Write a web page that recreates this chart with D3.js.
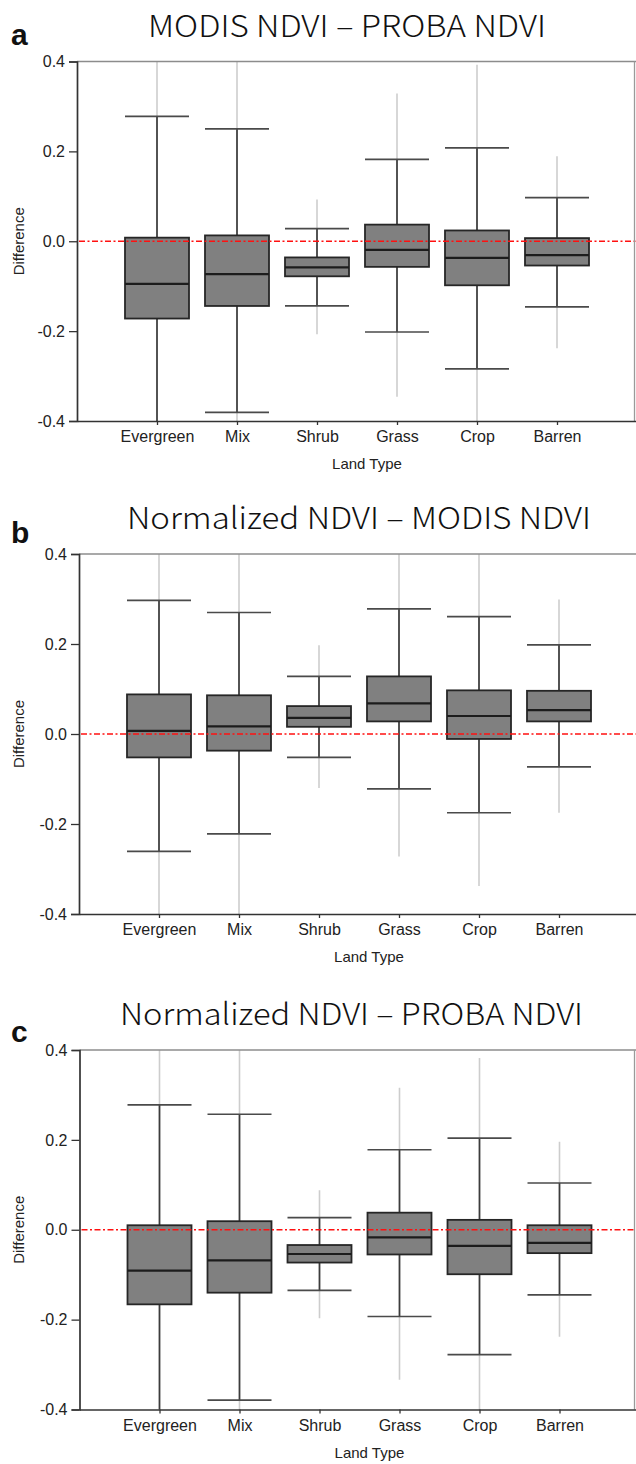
<!DOCTYPE html>
<html>
<head>
<meta charset="utf-8">
<script src="https://cdn.jsdelivr.net/npm/d3@7"></script>
<style>
  body { margin: 0; background: #fff; }
  svg { display: block; }
</style>
</head>
<body>
<div id="chart"></div>
<script>
// land types along the x axis
const landTypes = ["Evergreen", "Mix", "Shrub", "Grass", "Crop", "Barren"];
const yTicks = [0.4, 0.2, 0.0, -0.2, -0.4];

// panel a: MODIS NDVI - PROBA NDVI   (values past +-0.4 run off the plot)
const aMin  = [-0.45, -0.45, -0.207, -0.346, -0.45, -0.238];
const aLow  = [-0.45, -0.381, -0.144, -0.202, -0.284, -0.146];
const aQ1   = [-0.172, -0.144, -0.078, -0.057, -0.098, -0.054];
const aMed  = [-0.095, -0.073, -0.058, -0.019, -0.037, -0.031];
const aQ3   = [0.008, 0.013, -0.036, 0.037, 0.024, 0.007];
const aHigh = [0.278, 0.250, 0.028, 0.182, 0.208, 0.097];
const aMax  = [0.45, 0.45, 0.093, 0.329, 0.393, 0.189];

// panel b: Normalized NDVI - MODIS NDVI
const bMin  = [-0.45, -0.45, -0.120, -0.272, -0.338, -0.175];
const bLow  = [-0.261, -0.222, -0.052, -0.122, -0.175, -0.073];
const bQ1   = [-0.052, -0.037, 0.016, 0.028, -0.011, 0.028];
const bMed  = [0.007, 0.017, 0.036, 0.068, 0.040, 0.053];
const bQ3   = [0.088, 0.086, 0.062, 0.128, 0.097, 0.096];
const bHigh = [0.297, 0.270, 0.128, 0.278, 0.261, 0.198];
const bMax  = [0.45, 0.45, 0.197, 0.45, 0.45, 0.299];

// panel c: Normalized NDVI - PROBA NDVI
const cMin  = [-0.45, -0.45, -0.197, -0.334, -0.45, -0.238];
const cLow  = [-0.45, -0.379, -0.135, -0.193, -0.278, -0.145];
const cQ1   = [-0.166, -0.140, -0.073, -0.055, -0.099, -0.052];
const cMed  = [-0.091, -0.068, -0.054, -0.017, -0.036, -0.029];
const cQ3   = [0.010, 0.019, -0.034, 0.038, 0.022, 0.010];
const cHigh = [0.278, 0.257, 0.027, 0.178, 0.204, 0.104];
const cMax  = [0.45, 0.45, 0.088, 0.316, 0.382, 0.196];

const panels = [
  { tag: "a", title: "MODIS NDVI \u2013 PROBA NDVI", min: aMin, low: aLow, q1: aQ1, med: aMed, q3: aQ3, high: aHigh, max: aMax,
    left: 77, top: 61.5, bottom: 421, rightLine: 634.5, titleX: 347, titleY: 37, titleW: 398, tagY: 45 },
  { tag: "b", title: "Normalized NDVI \u2013 MODIS NDVI", min: bMin, low: bLow, q1: bQ1, med: bMed, q3: bQ3, high: bHigh, max: bMax,
    left: 79, top: 554, bottom: 914, rightLine: 640, titleX: 359, titleY: 529, titleW: 464, tagY: 543 },
  { tag: "c", title: "Normalized NDVI \u2013 PROBA NDVI", min: cMin, low: cLow, q1: cQ1, med: cMed, q3: cQ3, high: cHigh, max: cMax,
    left: 79.5, top: 1050, bottom: 1409.5, rightLine: 634.5, titleX: 351.5, titleY: 1025, titleW: 463, tagY: 1042 }
];

const width = 636, height = 1464;
const boxW = 64;

const svg = d3.select("#chart").append("svg")
  .attr("width", width)
  .attr("height", height)
  .style("font-family", "'Liberation Sans', Arial, sans-serif");

panels.forEach((p, pi) => {
  const x = d3.scaleLinear().domain([0, landTypes.length + 1]).range([p.left, p.left + 560]);
  const y = d3.scaleLinear().domain([-0.4, 0.4]).range([p.bottom, p.top]);

  const rows = landTypes.map((name, i) => ({
    name, i,
    min: p.min[i], low: p.low[i], q1: p.q1[i], med: p.med[i], q3: p.q3[i], high: p.high[i], max: p.max[i]
  }));

  const g = svg.append("g");

  // titles
  g.append("text")
    .attr("x", p.titleX).attr("y", p.titleY)
    .attr("text-anchor", "middle")
    .attr("textLength", p.titleW)
    .attr("lengthAdjust", "spacingAndGlyphs")
    .style("font-family", "'Noto Sans CJK KR', 'Noto Sans', sans-serif")
    .style("font-weight", 300)
    .style("font-size", "30px")
    .attr("fill", "#111")
    .text(p.title);

  g.append("text")
    .attr("x", 11).attr("y", p.tagY)
    .style("font-weight", "bold")
    .style("font-size", "30px")
    .attr("fill", "#111")
    .text(p.tag);

  const clipId = "clip-" + pi;
  svg.append("defs").append("clipPath").attr("id", clipId)
    .append("rect")
    .attr("x", p.left).attr("y", p.top)
    .attr("width", 600).attr("height", p.bottom - p.top);

  const plot = g.append("g").attr("clip-path", `url(#${clipId})`);

  // full range lines (light grey)
  plot.selectAll(".range").data(rows).join("line")
    .attr("x1", d => x(d.i + 1)).attr("x2", d => x(d.i + 1))
    .attr("y1", d => y(d.min)).attr("y2", d => y(d.max))
    .attr("stroke", "#cdcdcd").attr("stroke-width", 1.6);

  // whiskers
  plot.selectAll(".wlo").data(rows).join("line")
    .attr("x1", d => x(d.i + 1)).attr("x2", d => x(d.i + 1))
    .attr("y1", d => y(d.low)).attr("y2", d => y(d.q1))
    .attr("stroke", "#3c3c3c").attr("stroke-width", 1.7);
  plot.selectAll(".whi").data(rows).join("line")
    .attr("x1", d => x(d.i + 1)).attr("x2", d => x(d.i + 1))
    .attr("y1", d => y(d.q3)).attr("y2", d => y(d.high))
    .attr("stroke", "#3c3c3c").attr("stroke-width", 1.7);

  // caps
  ["low", "high"].forEach(k => {
    plot.selectAll(".cap-" + k).data(rows).join("line")
      .attr("x1", d => x(d.i + 1) - boxW / 2).attr("x2", d => x(d.i + 1) + boxW / 2)
      .attr("y1", d => y(d[k])).attr("y2", d => y(d[k]))
      .attr("stroke", "#4a4a4a").attr("stroke-width", 1.7);
  });

  // boxes
  plot.selectAll(".box").data(rows).join("rect")
    .attr("x", d => x(d.i + 1) - boxW / 2)
    .attr("width", boxW)
    .attr("y", d => y(d.q3))
    .attr("height", d => y(d.q1) - y(d.q3))
    .attr("fill", "#808080")
    .attr("stroke", "#262626").attr("stroke-width", 1.8);

  // medians
  plot.selectAll(".med").data(rows).join("line")
    .attr("x1", d => x(d.i + 1) - boxW / 2).attr("x2", d => x(d.i + 1) + boxW / 2)
    .attr("y1", d => y(d.med)).attr("y2", d => y(d.med))
    .attr("stroke", "#1c1c1c").attr("stroke-width", 2.2);

  // zero reference line
  g.append("line")
    .attr("x1", p.left + 2).attr("x2", width)
    .attr("y1", y(0)).attr("y2", y(0))
    .attr("stroke", "#ff1010").attr("stroke-width", 1.7)
    .attr("stroke-dasharray", "6,2.5,2,2.5");

  // frame: top and right in grey
  g.append("line")
    .attr("x1", p.left).attr("x2", width)
    .attr("y1", p.top).attr("y2", p.top)
    .attr("stroke", "#8c8c8c").attr("stroke-width", 1.3);
  g.append("line")
    .attr("x1", p.rightLine).attr("x2", p.rightLine)
    .attr("y1", p.top).attr("y2", p.bottom)
    .attr("stroke", "#9a9a9a").attr("stroke-width", 1.3);

  // y axis
  const yAxis = g.append("g")
    .attr("transform", `translate(${p.left},0)`)
    .call(d3.axisLeft(y).tickValues(yTicks).tickFormat(d3.format(".1f")).tickSize(8).tickPadding(4));
  yAxis.select(".domain").attr("stroke", "#333").attr("stroke-width", 1.7);
  yAxis.selectAll(".tick line").attr("stroke", "#333").attr("stroke-width", 1.3);
  yAxis.selectAll(".tick text")
    .style("font-size", "16px")
    .style("font-family", "'Liberation Sans', Arial, sans-serif")
    .attr("fill", "#222")
    .text(d => d3.format(".1f")(d).replace("\u2212", "-"));

  // x axis
  const xAxis = g.append("g")
    .attr("transform", `translate(0,${p.bottom})`)
    .call(d3.axisBottom(x).tickValues(landTypes.map((_, i) => i + 1))
      .tickFormat(v => landTypes[v - 1]).tickSizeInner(4).tickSizeOuter(0).tickPadding(6));
  xAxis.select(".domain").attr("stroke", "#333").attr("stroke-width", 1.7);
  xAxis.selectAll(".tick line").attr("stroke", "#333").attr("stroke-width", 1.3);
  xAxis.selectAll(".tick text")
    .style("font-size", "16px")
    .style("font-family", "'Liberation Sans', Arial, sans-serif")
    .attr("fill", "#222");

  // axis titles
  g.append("text")
    .attr("transform", `translate(24,${(p.top + p.bottom) / 2}) rotate(-90)`)
    .attr("text-anchor", "middle")
    .style("font-size", "15px")
    .attr("fill", "#222")
    .text("Difference");

  g.append("text")
    .attr("x", p.left + 290).attr("y", p.bottom + 48)
    .attr("text-anchor", "middle")
    .style("font-size", "15px")
    .attr("fill", "#222")
    .text("Land Type");
});
</script>
</body>
</html>
